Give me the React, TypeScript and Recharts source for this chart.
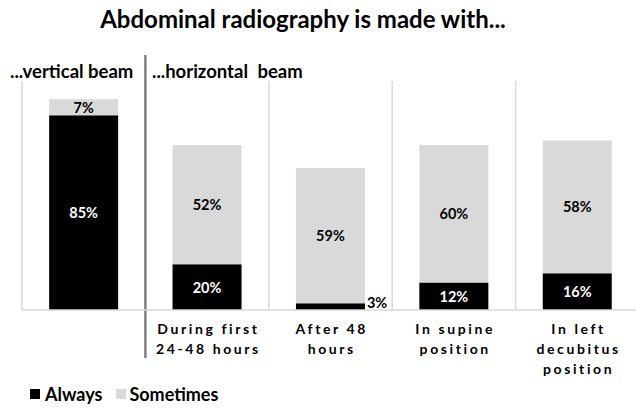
import React from "react";
import {
  BarChart,
  Bar,
  XAxis,
  YAxis,
  CartesianGrid,
  Legend,
  LabelList,
  Customized,
  usePlotArea,
} from "recharts";

const categories = [
  "",
  "During first\n24-48 hours",
  "After 48\nhours",
  "In supine\nposition",
  "In left\ndecubitus\nposition",
];
const always = [85, 20, 3, 12, 16];
const sometimes = [7, 52, 59, 60, 58];

const data = categories.map((name, i) => ({
  name,
  always: always[i],
  sometimes: sometimes[i],
}));

const FONT = "Lato, 'Open Sans', sans-serif";
const BLACK = "#000000";
const GRAY = "#d9d9d9";

const CategoryTick = (props: any) => {
  const { x, y, payload } = props;
  const lines = String(payload.value).split("\n");
  return (
    <text
      x={x}
      y={y}
      textAnchor="middle"
      fontFamily={FONT}
      fontWeight={700}
      fontSize={14}
      letterSpacing={2.6}
      fill="#000"
    >
      {lines.map((l, i) => (
        <tspan key={i} x={x + 1.3} dy={i === 0 ? 16 : 20}>
          {l}
        </tspan>
      ))}
    </text>
  );
};

const AlwaysLabel = (props: any) => {
  const { x, y, width, height, value } = props;
  if (value < 5) {
    return (
      <text
        x={x + width + 2}
        y={y + height - 2}
        fontFamily={FONT}
        fontWeight={700}
        fontSize={14.5}
        fill="#000"
      >
        {value}%
      </text>
    );
  }
  return (
    <text
      x={x + width / 2}
      y={y + height / 2}
      textAnchor="middle"
      dominantBaseline="central"
      fontFamily={FONT}
      fontWeight={700}
      fontSize={14.5}
      fill="#fff"
    >
      {value}%
    </text>
  );
};

const SometimesLabel = (props: any) => {
  const { x, y, width, height, value } = props;
  return (
    <text
      x={x + width / 2}
      y={y + height / 2}
      textAnchor="middle"
      dominantBaseline="central"
      fontFamily={FONT}
      fontWeight={700}
      fontSize={14.5}
      fill="#000"
    >
      {value}%
    </text>
  );
};

// dark line splitting vertical vs horizontal beam groups
const Separator = () => {
  const area = usePlotArea();
  if (!area) return null;
  const x = area.x + area.width / categories.length;
  return (
    <line
      x1={x}
      x2={x}
      y1={area.y - 26}
      y2={area.y + area.height + 48}
      stroke="#7f7f7f"
      strokeWidth={2.5}
    />
  );
};

const renderLegend = () => (
  <div
    style={{
      display: "flex",
      alignItems: "center",
      fontFamily: FONT,
      fontWeight: 700,
      fontSize: 18,
      paddingLeft: 8,
      height: 28,
    }}
  >
    <span style={{ width: 10, height: 10, background: BLACK, marginRight: 5 }} />
    <span style={{ marginRight: 14 }}>Always</span>
    <span style={{ width: 10, height: 10, background: GRAY, marginRight: 3 }} />
    <span>Sometimes</span>
  </div>
);

export default function App() {
  return (
    <div
      style={{
        position: "absolute",
        left: 0,
        top: 0,
        width: 636,
        height: 408,
        background: "#fff",
        fontFamily: FONT,
      }}
    >
      <div
        style={{
          position: "absolute",
          top: 4,
          left: 0,
          width: 606,
          textAlign: "center",
          fontWeight: 700,
          fontSize: 24,
        }}
      >
        Abdominal radiography is made with...
      </div>
      <div style={{ position: "absolute", top: 60, left: 10, fontWeight: 700, fontSize: 18.5 }}>
        ...vertical beam
      </div>
      <div
        style={{
          position: "absolute",
          top: 60,
          left: 152,
          fontWeight: 700,
          fontSize: 18.5,
          wordSpacing: 5,
        }}
      >
        ...horizontal beam
      </div>
      <BarChart
        width={636}
        height={408}
        data={data}
        margin={{ top: 81, right: -3, left: 22, bottom: 0 }}
        barCategoryGap="22%"
      >
        <CartesianGrid
          horizontal={false}
          stroke={GRAY}
          strokeWidth={1.5}
          verticalCoordinatesGenerator={(p: any) => {
            const { left, width } = p.offset;
            return categories.map((_, i) => left + (i * width) / categories.length);
          }}
        />
        <XAxis
          dataKey="name"
          interval={0}
          tickLine={false}
          axisLine={{ stroke: GRAY, strokeWidth: 1.5 }}
          height={70}
          tick={<CategoryTick />}
        />
        <YAxis hide domain={[0, 100]} />
        <Legend verticalAlign="bottom" align="left" content={renderLegend} />
        <Bar dataKey="always" stackId="a" fill={BLACK} isAnimationActive={false}>
          <LabelList dataKey="always" content={<AlwaysLabel />} />
        </Bar>
        <Bar dataKey="sometimes" stackId="a" fill={GRAY} isAnimationActive={false}>
          <LabelList dataKey="sometimes" content={<SometimesLabel />} />
        </Bar>
        <Customized component={<Separator />} />
      </BarChart>
    </div>
  );
}
